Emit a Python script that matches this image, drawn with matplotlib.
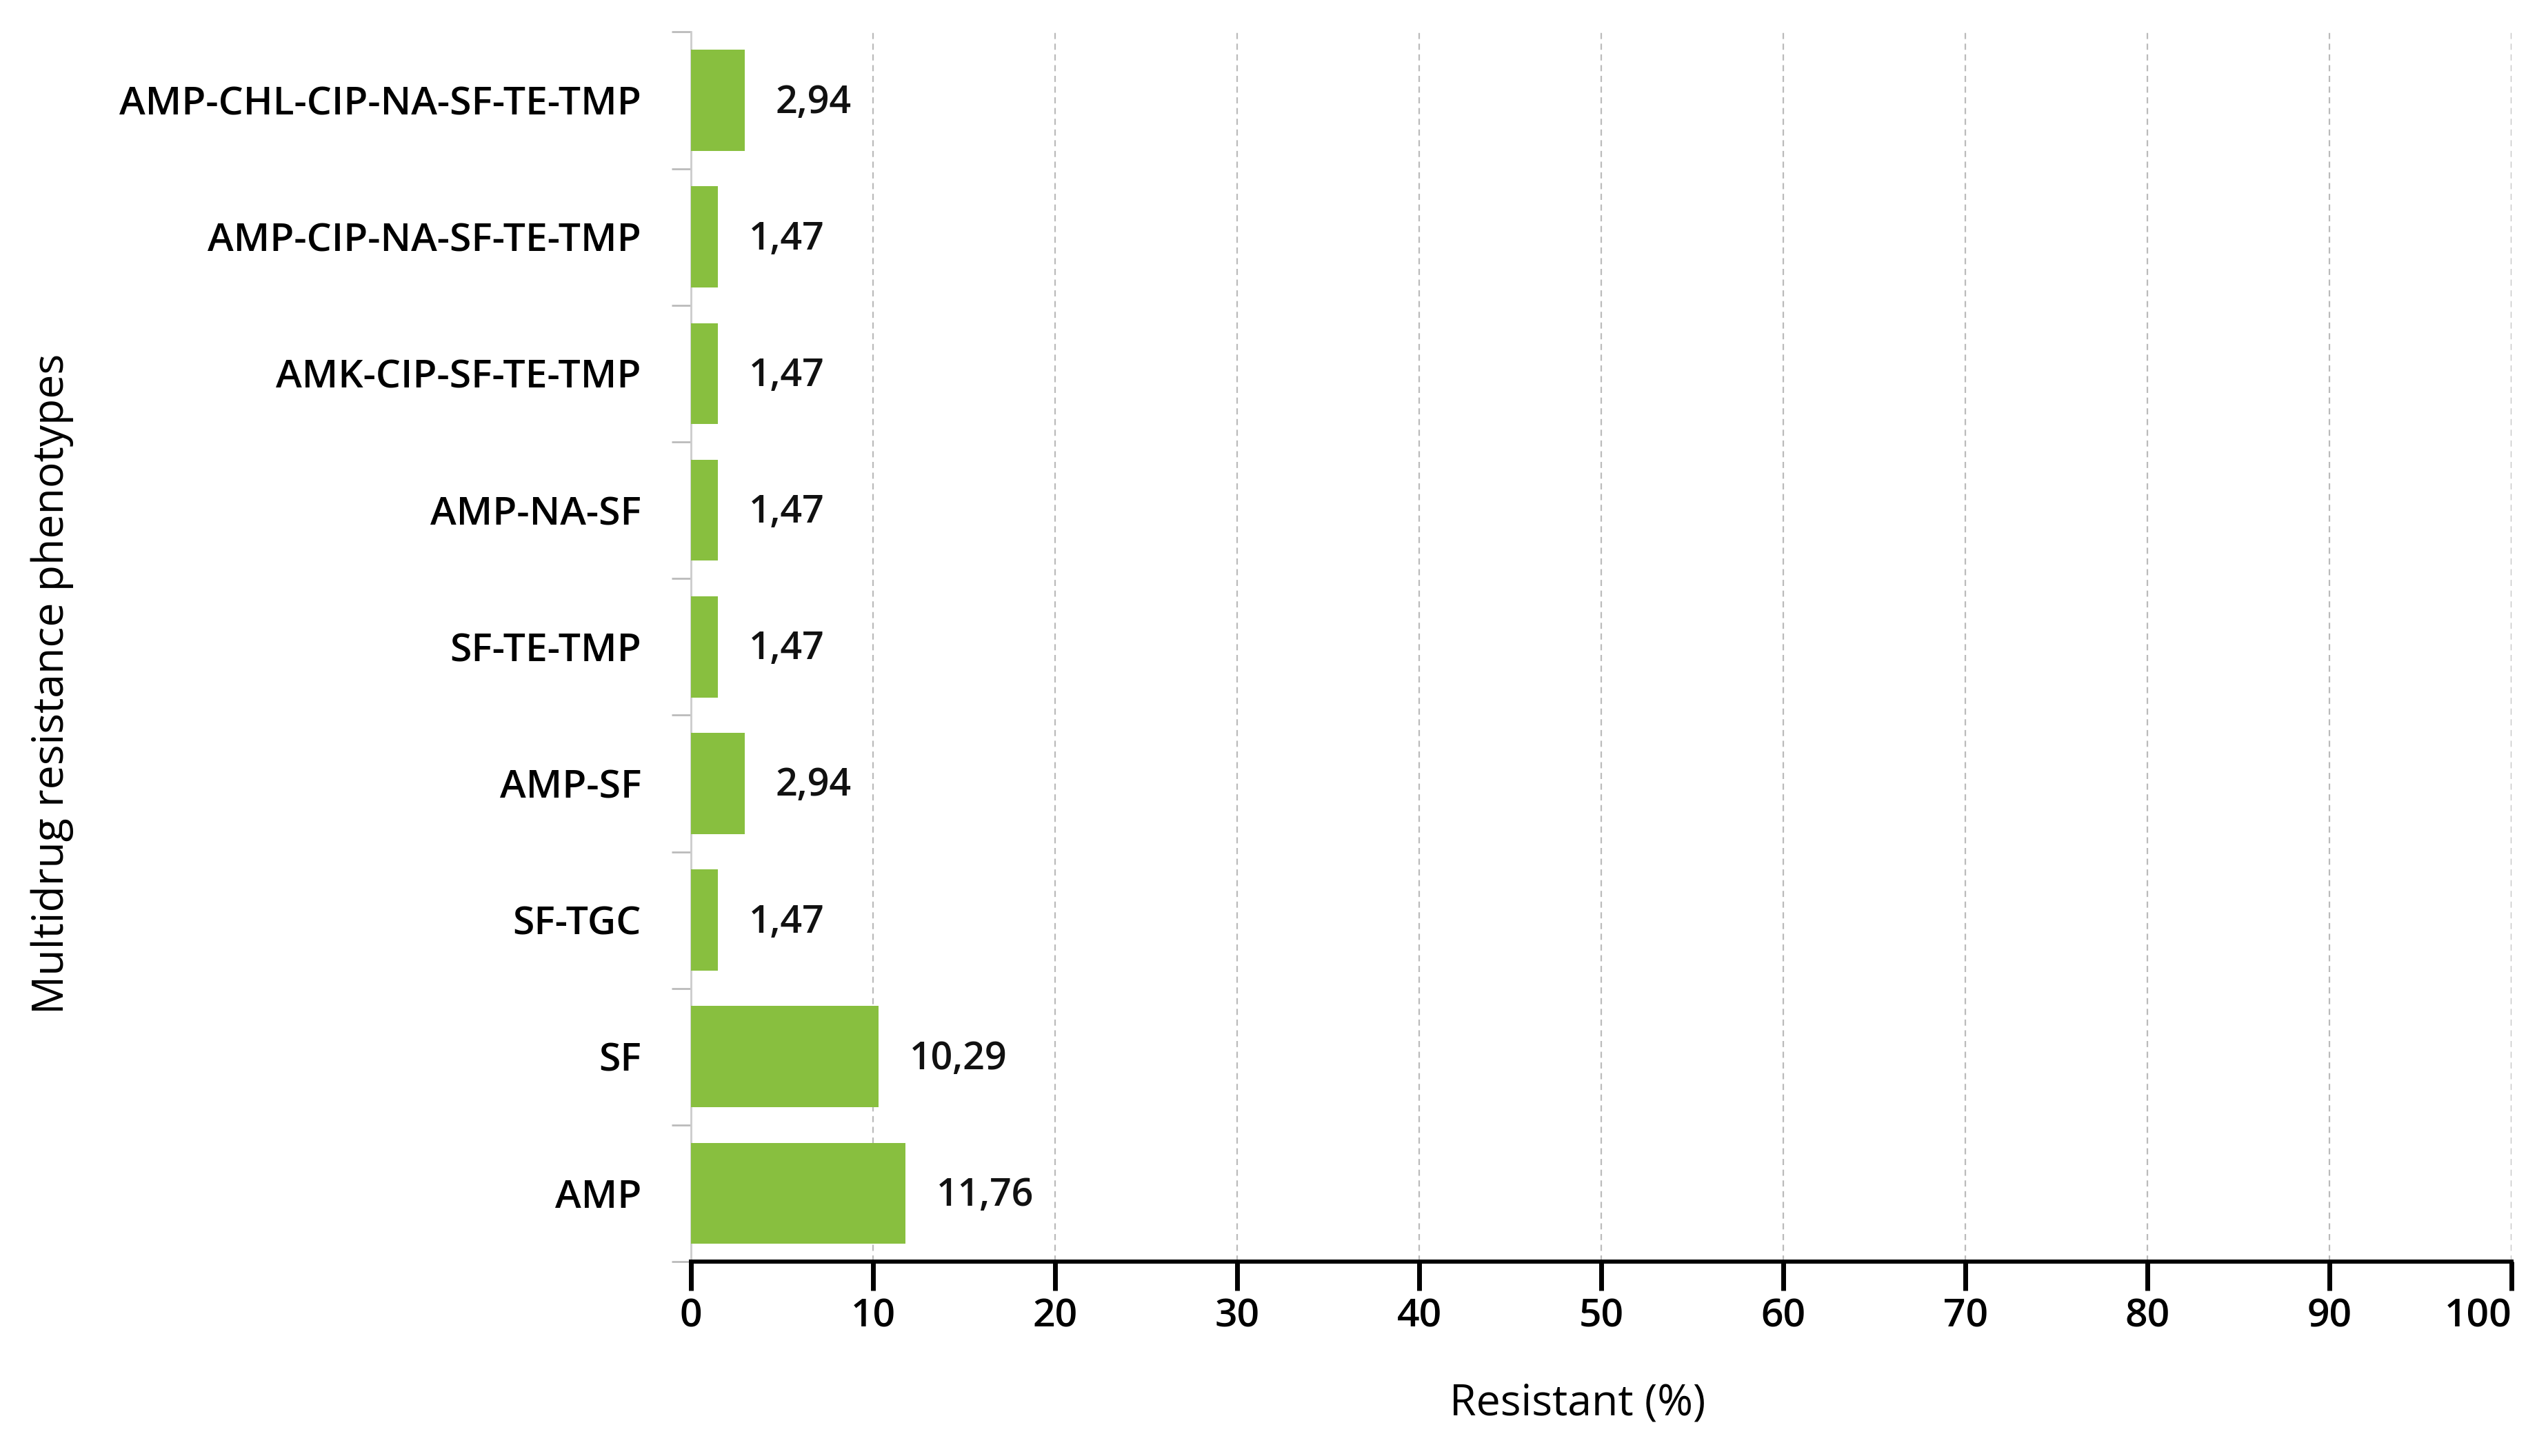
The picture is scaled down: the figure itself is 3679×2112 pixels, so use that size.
import matplotlib.pyplot as plt
import numpy as np

# phenotypes, bottom to top as drawn
phenotypes = ["AMP", "SF", "SF-TGC", "AMP-SF", "SF-TE-TMP", "AMP-NA-SF",
              "AMK-CIP-SF-TE-TMP", "AMP-CIP-NA-SF-TE-TMP", "AMP-CHL-CIP-NA-SF-TE-TMP"]
resistant = [11.76, 10.29, 1.47, 2.94, 1.47, 1.47, 1.47, 1.47, 2.94]
xticks = [0, 10, 20, 30, 40, 50, 60, 70, 80, 90, 100]

plt.rcParams['font.family'] = ['Open Sans', 'DejaVu Sans']

fig = plt.figure(figsize=(36.79, 21.12), dpi=100)
ax = fig.add_axes([0.2724, 0.1335, 0.7176, 0.8445])

pos = np.arange(len(phenotypes))
ax.barh(pos, resistant, height=0.74, color='#88bf3f', zorder=3)

for p, v in zip(pos, resistant):
    ax.text(v + 1.7, p - 0.02, ("%.2f" % v).replace('.', ','), va='center', ha='left',
            fontsize=40, fontweight='semibold', color='#111111')

ax.set_xlim(0, 100)
ax.set_ylim(-0.5, len(phenotypes) - 0.5)
ax.set_xticks(xticks)
ax.set_xticklabels([str(t) for t in xticks], fontsize=41, fontweight='semibold')
# last label sits left of its tick so it stays inside the figure
ax.get_xticklabels()[-1].set_horizontalalignment('right')
ax.set_yticks(pos)
ax.set_yticklabels(phenotypes, fontsize=41, fontweight='semibold')
ax.set_yticks(np.arange(-0.5, len(phenotypes)), minor=True)

ax.tick_params(axis='y', which='major', length=0, pad=52)
ax.tick_params(axis='y', which='minor', length=20, width=2, color='#bbbbbb')
ax.tick_params(axis='x', which='major', length=30, width=5, color='black', pad=8)

ax.grid(axis='x', linestyle=(0, (4, 3)), color='#bbbbbb', linewidth=1.6, zorder=0)

for s in ['top', 'right']:
    ax.spines[s].set_visible(False)
ax.spines['left'].set_color('#cccccc')
ax.spines['left'].set_linewidth(2)
ax.spines['bottom'].set_linewidth(4.3)
ax.spines['bottom'].set_zorder(4)

ax.set_xlabel("Resistant (%)", fontsize=45)
ax.xaxis.set_label_coords(0.487, -0.098)
ax.set_ylabel("Multidrug resistance phenotypes", fontsize=45)
ax.yaxis.set_label_coords(-0.339, 0.47)

fig.savefig('out.png', dpi=100)
